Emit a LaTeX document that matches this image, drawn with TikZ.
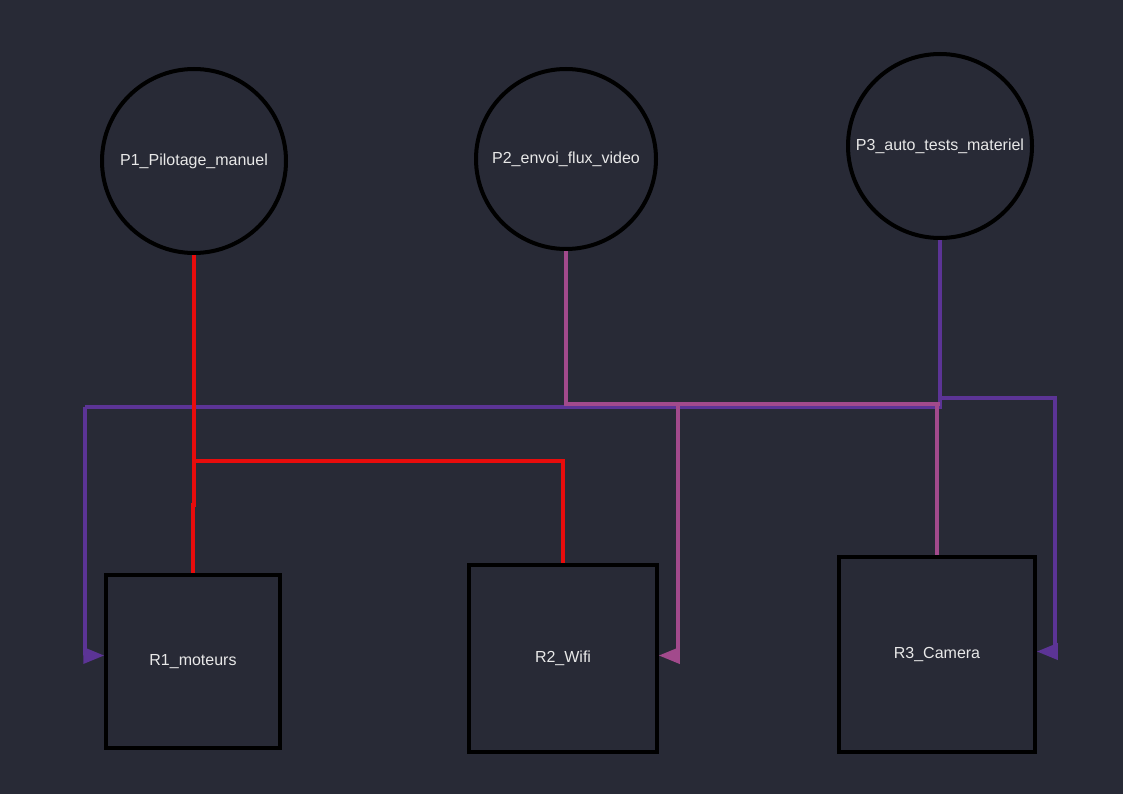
\documentclass[tikz,border=0pt]{standalone}
\usepackage{fontspec}
\setmainfont{Liberation Sans}
\usetikzlibrary{arrows.meta}
\definecolor{bgc}{RGB}{40,42,54}
\definecolor{redc}{RGB}{232,12,12}
\definecolor{pinkc}{RGB}{162,74,140}
\definecolor{purpc}{RGB}{92,52,150}
\definecolor{txtc}{RGB}{232,232,232}
\begin{document}
\begin{tikzpicture}[x=1pt,y=-1pt,
  proc/.style={circle,draw=black,line width=4pt,text=txtc,font=\fontsize{16}{19}\selectfont,inner sep=0pt},
  res/.style={rectangle,draw=black,line width=3.5pt,text=txtc,font=\fontsize{16}{19}\selectfont,inner sep=0pt},
  redline/.style={draw=redc,line width=4pt},
  pinkline/.style={draw=pinkc,line width=3.5pt},
  purpline/.style={draw=purpc,line width=3.5pt},
  tipp/.style={-{Triangle[length=21pt,width=16pt]}}
]
\fill[bgc] (0,0) rectangle (1123,794);
\useasboundingbox (0,0) rectangle (1123,794);

\node[proc,minimum size=184pt] (P1) at (194,161) {\raisebox{-1.5pt}{P1\_Pilotage\_manuel}};
\node[proc,minimum size=180pt] (P2) at (566,159) {\raisebox{-1.5pt}{P2\_envoi\_flux\_video}};
\node[proc,minimum size=184pt] (P3) at (940,146) {\raisebox{-1pt}{P3\_auto\_tests\_materiel}};

\node[res,minimum width=174pt,minimum height=173pt] (R1) at (193,661.5) {\raisebox{-1.5pt}{R1\_moteurs}};
\node[res,minimum width=188pt,minimum height=187pt] (R2) at (563,658.5) {\raisebox{-1.5pt}{R2\_Wifi}};
\node[res,minimum width=196pt,minimum height=195pt] (R3) at (937,654.5) {\raisebox{-1.5pt}{R3\_Camera}};

\coordinate (rj) at (194,505);
\coordinate (rb) at (194,461);
\coordinate (pj) at (566,404);
\coordinate (pb) at (678,406);
\coordinate (uj) at (940,407);
\coordinate (ul) at (85,407);
\coordinate (ub) at (940,398);
\coordinate (ur) at (1055,398);

% purple (P3)
\draw[purpline] (P3.south) -- (uj) -- (ul);
\draw[purpline,tipp] (ul) |- ([yshift=6pt]R1.west);
\draw[purpline,tipp] (ub) -- (ur) |- ([yshift=3pt]R3.east);

% pink (P2)
\draw[pinkline] (P2.south) -- (pj) -- (940,404);
\draw[pinkline] (937,404) -- (R3.north);
\draw[pinkline,tipp] (pb) |- ([yshift=3pt]R2.east);

% red (P1)
\draw[redline] (P1.south) -- (rj) -| (R1.north);
\draw[redline] (rb) -| (R2.north);
\end{tikzpicture}
\end{document}
